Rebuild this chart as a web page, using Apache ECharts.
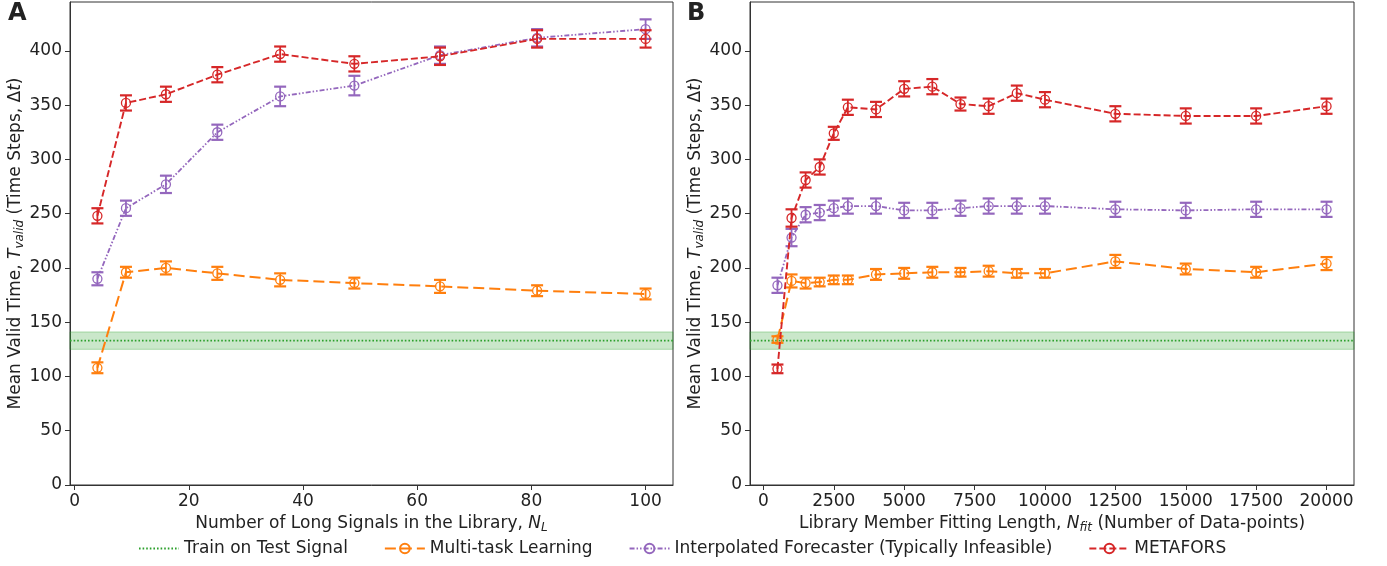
<!DOCTYPE html>
<html>
<head>
<meta charset="utf-8">
<script src="https://cdn.jsdelivr.net/npm/echarts@6/dist/echarts.min.js"></script>
<style>
  html, body { margin: 0; padding: 0; background: #fff; }
  #chart { width: 1387px; height: 566px; }
</style>
</head>
<body>
<div id="chart"></div>
<script>
// panel A: number of long signals in the library
const nL = [4, 9, 16, 25, 36, 49, 64, 81, 100];
const aMulti = [108, 196, 200, 195, 189, 186, 183, 179, 176];
const aMultiErr = [5, 5, 6, 6, 6, 5, 6, 5, 5];
const aInterp = [190, 255, 277, 325, 358, 368, 396, 412, 420];
const aInterpErr = [6, 7, 8, 7, 9, 9, 8, 8, 9];
const aMeta = [248, 352, 360, 378, 397, 388, 395, 411, 411];
const aMetaErr = [7, 7, 7, 7, 7, 7, 8, 8, 8];

// panel B: library member fitting length
const nFit = [500, 1000, 1500, 2000, 2500, 3000, 4000, 5000, 6000, 7000, 8000, 9000, 10000, 12500, 15000, 17500, 20000];
const bMulti = [134, 188, 186, 187, 189, 189, 194, 195, 196, 196, 197, 195, 195, 206, 199, 196, 204];
const bMultiErr = [3, 6, 5, 4, 4, 4, 5, 5, 5, 4, 5, 4, 4, 6, 5, 5, 6];
const bInterp = [184, 228, 249, 251, 255, 257, 257, 253, 253, 255, 257, 257, 257, 254, 253, 254, 254];
const bInterpErr = [7, 8, 7, 7, 7, 7, 7, 7, 7, 7, 7, 7, 7, 7, 7, 7, 7];
const bMeta = [107, 246, 281, 293, 324, 348, 346, 365, 367, 351, 349, 361, 355, 342, 340, 340, 349];
const bMetaErr = [4, 8, 7, 7, 6, 7, 7, 7, 7, 6, 7, 7, 7, 7, 7, 7, 7];

// baseline: train on test signal
const trainMean = 133;
const trainErr = 8;

const yTicks = [0, 50, 100, 150, 200, 250, 300, 350, 400];
const xTicksA = [0, 20, 40, 60, 80, 100];
const xTicksB = [0, 2500, 5000, 7500, 10000, 12500, 15000, 17500, 20000];

const names = ['Train on Test Signal', 'Multi-task Learning', 'Interpolated Forecaster (Typically Infeasible)', 'METAFORS'];
const colors = { train: '#2ca02c', multi: '#ff7f0e', interp: '#9467bd', meta: '#d62728' };
const FONT = 'DejaVu Sans';
const FS = 17;

const myChart = echarts.init(document.getElementById('chart'));

function pairs(xs, ys) {
    return xs.map((x, i) => [x, ys[i]]);
}
function errData(xs, ys, es) {
    return xs.map((x, i) => [x, ys[i], ys[i] - es[i], ys[i] + es[i]]);
}

function errSeries(name, idx, xs, ys, es, color, z) {
    return {
        name: name + ' err',
        type: 'custom',
        xAxisIndex: idx,
        yAxisIndex: idx,
        z: z,
        silent: true,
        data: errData(xs, ys, es),
        renderItem: function (params, api) {
            const x = api.value(0);
            const top = api.coord([x, api.value(3)]);
            const bot = api.coord([x, api.value(2)]);
            const w = 6;
            const st = { stroke: color, lineWidth: 2.2 };
            return {
                type: 'group',
                children: [
                    { type: 'line', shape: { x1: top[0], y1: top[1], x2: bot[0], y2: bot[1] }, style: { stroke: color, lineWidth: 1.8 } },
                    { type: 'line', shape: { x1: top[0] - w, y1: top[1], x2: top[0] + w, y2: top[1] }, style: st },
                    { type: 'line', shape: { x1: bot[0] - w, y1: bot[1], x2: bot[0] + w, y2: bot[1] }, style: st }
                ]
            };
        }
    };
}

function lineSeries(name, idx, xs, ys, color, dash, width, z) {
    return {
        name: name,
        type: 'line',
        xAxisIndex: idx,
        yAxisIndex: idx,
        z: z,
        data: pairs(xs, ys),
        symbol: 'circle',
        symbolSize: 9,
        showSymbol: true,
        itemStyle: { color: 'rgba(255,255,255,0)', borderColor: color, borderWidth: 1.3 },
        lineStyle: { color: color, width: width, type: dash },
        emphasis: { disabled: true },
        animation: false
    };
}

function trainSeries(idx, xmin, xmax) {
    return {
        name: names[0],
        type: 'line',
        xAxisIndex: idx,
        yAxisIndex: idx,
        z: 1,
        data: [[xmin, trainMean], [xmax, trainMean]],
        symbol: 'none',
        itemStyle: { color: colors.train },
        lineStyle: { color: colors.train, width: 1.6, type: [1.6, 2] },
        markArea: {
            silent: true,
            itemStyle: { color: 'rgba(44,160,44,0.25)', borderColor: 'rgba(44,160,44,0.35)', borderWidth: 1 },
            data: [[{ yAxis: trainMean - trainErr }, { yAxis: trainMean + trainErr }]]
        },
        animation: false
    };
}

const labelStyle = { color: '#222', fontSize: FS, fontFamily: FONT, formatter: v => String(v) };
const nameRich = {
    n: { fontSize: FS, fontFamily: FONT, color: '#222' },
    i: { fontSize: FS, fontFamily: FONT, fontStyle: 'italic', color: '#222' },
    sub: { fontSize: 12, fontFamily: FONT, fontStyle: 'italic', color: '#222', padding: [8, 0, 0, 0] }
};

function yAxis(idx) {
    return {
        type: 'value',
        gridIndex: idx,
        min: 0,
        max: 445,
        name: '{n|Mean Valid Time, }{i|T}{sub|valid}{n| (Time Steps, Δ}{i|t}{n|)}',
        nameLocation: 'middle',
        nameGap: 44,
        nameTextStyle: { rich: nameRich },
        splitLine: { show: false },
        axisLine: { show: true, onZero: false, lineStyle: { color: '#333', width: 1 } },
        axisTick: { show: true, length: 5, customValues: yTicks, lineStyle: { color: '#333' } },
        axisLabel: Object.assign({ customValues: yTicks, margin: 8 }, labelStyle)
    };
}

function xAxis(idx, min, max, ticks, name) {
    return {
        type: 'value',
        gridIndex: idx,
        min: min,
        max: max,
        name: name,
        nameLocation: 'middle',
        nameGap: 28,
        nameTextStyle: { rich: nameRich },
        splitLine: { show: false },
        axisLine: { show: true, onZero: false, lineStyle: { color: '#333', width: 1 } },
        axisTick: { show: true, length: 5, customValues: ticks, lineStyle: { color: '#333' } },
        axisLabel: Object.assign({ customValues: ticks, margin: 8 }, labelStyle)
    };
}

const option = {
    backgroundColor: '#fff',
    animation: false,
    textStyle: { fontFamily: FONT },
    grid: [
        { left: 70, right: 714, top: 2, bottom: 81, show: true, borderColor: '#333', borderWidth: 1 },
        { left: 750, right: 33, top: 2, bottom: 81, show: true, borderColor: '#333', borderWidth: 1 }
    ],
    xAxis: [
        xAxis(0, -0.8, 104.8, xTicksA, '{n|Number of Long Signals in the Library, }{i|N}{sub|L}'),
        xAxis(1, -475, 20975, xTicksB, '{n|Library Member Fitting Length, }{i|N}{sub|fit}{n| (Number of Data-points)}')
    ],
    yAxis: [yAxis(0), yAxis(1)],
    legend: {
        data: [
            { name: names[0], itemStyle: { color: 'rgba(0,0,0,0)', borderColor: 'rgba(0,0,0,0)' } },
            names[1], names[2], names[3]
        ],
        bottom: 4,
        left: 133,
        itemWidth: 40,
        itemHeight: 12,
        itemGap: 36,
        textStyle: { fontSize: FS, fontFamily: FONT, color: '#222' },
        selectedMode: false
    },
    graphic: [
        { type: 'text', left: 8, top: 2, style: { text: 'A', fontSize: 24, fontWeight: 'bold', fontFamily: FONT, fill: '#222' } },
        { type: 'text', left: 687, top: 2, style: { text: 'B', fontSize: 24, fontWeight: 'bold', fontFamily: FONT, fill: '#222' } }
    ],
    series: [
        trainSeries(0, -0.8, 104.8),
        errSeries(names[1], 0, nL, aMulti, aMultiErr, colors.multi, 2),
        lineSeries(names[1], 0, nL, aMulti, colors.multi, [11, 5], 2, 3),
        errSeries(names[2], 0, nL, aInterp, aInterpErr, colors.interp, 4),
        lineSeries(names[2], 0, nL, aInterp, colors.interp, [5, 2, 1.5, 2, 1.5, 2], 1.8, 5),
        errSeries(names[3], 0, nL, aMeta, aMetaErr, colors.meta, 6),
        lineSeries(names[3], 0, nL, aMeta, colors.meta, [7, 3], 1.9, 7),

        trainSeries(1, -475, 20975),
        errSeries(names[1], 1, nFit, bMulti, bMultiErr, colors.multi, 2),
        lineSeries(names[1], 1, nFit, bMulti, colors.multi, [11, 5], 2, 3),
        errSeries(names[2], 1, nFit, bInterp, bInterpErr, colors.interp, 4),
        lineSeries(names[2], 1, nFit, bInterp, colors.interp, [5, 2, 1.5, 2, 1.5, 2], 1.8, 5),
        errSeries(names[3], 1, nFit, bMeta, bMetaErr, colors.meta, 6),
        lineSeries(names[3], 1, nFit, bMeta, colors.meta, [7, 3], 1.9, 7)
    ]
};

myChart.setOption(option);
window.addEventListener('resize', function () {
    myChart.resize();
});
</script>
</body>
</html>
